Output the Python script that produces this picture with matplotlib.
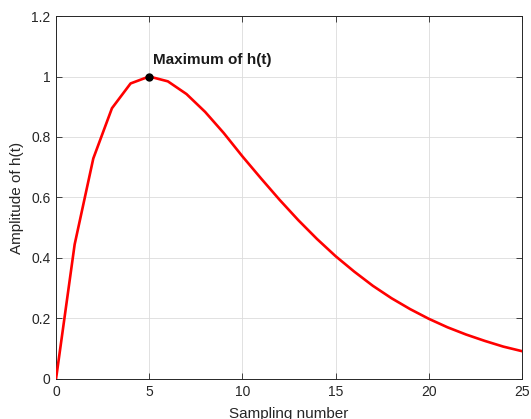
import matplotlib
matplotlib.use("Agg")
import matplotlib.pyplot as plt

samples = list(range(26))
amplitude = [0.0, 0.445, 0.729, 0.895, 0.977, 1.0, 0.984, 0.942, 0.883, 0.813,
             0.736, 0.663, 0.592, 0.525, 0.463, 0.406, 0.355, 0.308, 0.267, 0.231,
             0.199, 0.171, 0.147, 0.126, 0.107, 0.092]
peak_x, peak_y = 5, 1.0

plt.rcParams['font.family'] = ['Liberation Sans', 'DejaVu Sans']

fig = plt.figure(figsize=(5.31, 4.19), dpi=100)
ax = fig.add_axes([0.1055, 0.0955, 0.8775, 0.8663])

ax.plot(samples, amplitude, color='red', linewidth=1.9, zorder=3)
ax.plot(peak_x, peak_y, 'o', color='black', markersize=5, zorder=4)
ax.text(5.2, 1.055, 'Maximum of h(t)', fontsize=11, fontweight='bold',
        ha='left', va='center', color='#1a1a1a')

ax.set_xlim(0, 25)
ax.set_ylim(0, 1.2)
ax.set_xticks([0, 5, 10, 15, 20, 25])
ax.set_yticks([0, 0.2, 0.4, 0.6, 0.8, 1.0, 1.2])
ax.set_yticklabels(['0', '0.2', '0.4', '0.6', '0.8', '1', '1.2'])

ax.grid(True, color='#dcdcdc', linewidth=0.6)
ax.set_axisbelow(True)
ax.tick_params(direction='in', length=4, width=0.6, colors='#262626',
               labelsize=10, top=True, right=True, pad=4)
for s in ax.spines.values():
    s.set_color('#262626')
    s.set_linewidth(0.7)

ax.set_xlabel('Sampling number', fontsize=11, color='#262626', labelpad=6)
ax.set_ylabel('Amplitude of h(t)', fontsize=11, color='#262626', labelpad=5)

fig.savefig('out.png', dpi=100)
